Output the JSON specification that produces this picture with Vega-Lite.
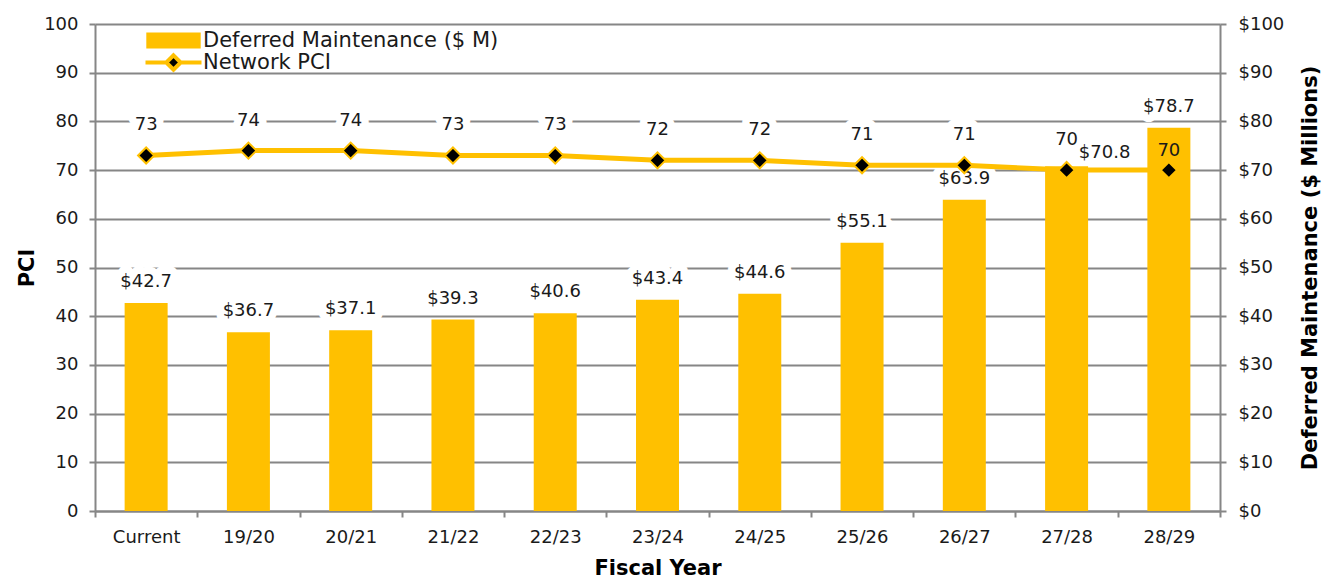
{
  "$schema": "https://vega.github.io/schema/vega-lite/v6.json",
  "width": 1125,
  "height": 487,
  "autosize": {"type": "none"},
  "padding": {"left": 95, "top": 24, "right": 117, "bottom": 74},
  "background": "white",
  "config": {
    "view": {"stroke": null},
    "font": "DejaVu Sans",
    "axis": {
      "labelFont": "DejaVu Sans",
      "labelFontSize": 18,
      "labelColor": "#1a1a1a",
      "titleFont": "DejaVu Sans",
      "titleFontSize": 21,
      "titleFontWeight": "bold",
      "titleColor": "#000000",
      "domainColor": "#868686",
      "domainWidth": 2,
      "tickColor": "#868686",
      "tickWidth": 2,
      "tickSize": 6,
      "gridColor": "#868686",
      "gridWidth": 2
    },
    "legend": {
      "orient": "none",
      "legendX": 68,
      "legendY": 6,
      "padding": 0,
      "labelFont": "DejaVu Sans",
      "labelFontSize": 21,
      "labelColor": "#1a1a1a",
      "labelOffset": 19,
      "labelLimit": 500,
      "rowPadding": -4,
      "symbolSize": 256,
      "symbolOpacity": 1
    }
  },
  "data": {
    "values": [
      {"year": "Current", "dm": 42.7, "pci": 73},
      {"year": "19/20", "dm": 36.7, "pci": 74},
      {"year": "20/21", "dm": 37.1, "pci": 74},
      {"year": "21/22", "dm": 39.3, "pci": 73},
      {"year": "22/23", "dm": 40.6, "pci": 73},
      {"year": "23/24", "dm": 43.4, "pci": 72},
      {"year": "24/25", "dm": 44.6, "pci": 72},
      {"year": "25/26", "dm": 55.1, "pci": 71},
      {"year": "26/27", "dm": 63.9, "pci": 71},
      {"year": "27/28", "dm": 70.8, "pci": 70},
      {"year": "28/29", "dm": 78.7, "pci": 70}
    ]
  },
  "encoding": {
    "x": {
      "field": "year",
      "type": "nominal",
      "sort": null,
      "scale": {
        "domain": ["Current", "19/20", "20/21", "21/22", "22/23", "23/24", "24/25", "25/26", "26/27", "27/28", "28/29"],
        "paddingInner": 0,
        "paddingOuter": 0
      },
      "axis": {
        "title": "Fiscal Year",
        "labelAngle": 0,
        "tickBand": "extent",
        "labelPadding": 11,
        "titlePadding": 11,
        "grid": false
      }
    }
  },
  "layer": [
    {
      "encoding": {
        "y": {
          "field": "dm",
          "type": "quantitative",
          "scale": {"domain": [0, 100]},
          "axis": {
            "orient": "right",
            "title": "Deferred Maintenance ($ Millions)",
            "titleAngle": 270,
            "values": [0, 10, 20, 30, 40, 50, 60, 70, 80, 90, 100],
            "format": "$d",
            "grid": false,
            "labelPadding": 12,
            "titlePadding": 37
          }
        }
      },
      "layer": [
        {
          "transform": [{"filter": "datum.year !== '27/28'"}],
          "mark": {"type": "text", "dy": -21, "fontSize": 18, "color": "#ffffff", "stroke": "#ffffff", "strokeWidth": 15, "strokeJoin": "round", "font": "DejaVu Sans"},
          "encoding": {
            "text": {"field": "dm", "type": "quantitative", "format": "$.1f"}
          }
        },
        {
          "transform": [{"filter": "datum.year === '27/28'"}],
          "mark": {"type": "text", "dx": 38, "dy": -13, "fontSize": 18, "color": "#ffffff", "stroke": "#ffffff", "strokeWidth": 15, "strokeJoin": "round", "font": "DejaVu Sans"},
          "encoding": {
            "text": {"field": "dm", "type": "quantitative", "format": "$.1f"}
          }
        },
        {
          "mark": {"type": "bar", "size": 43},
          "encoding": {
            "fill": {
              "datum": "Deferred Maintenance ($ M)",
              "type": "nominal",
              "scale": {
                "domain": ["Deferred Maintenance ($ M)", "Network PCI"],
                "range": ["#FFC000", "#000000"]
              },
              "legend": {
                "title": null,
                "encode": {
                  "symbols": {
                    "update": {
                      "shape": {"signal": "datum.value === 'Network PCI' ? 'M-3.5,0H-0.8M0.8,0H3.5M0,-0.9L0.9,0L0,0.9L-0.9,0Z' : 'M-3.4,-1H3.4V1H-3.4Z'"},
                      "stroke": {"value": "#FFC000"},
                      "strokeWidth": {"signal": "datum.value === 'Network PCI' ? 4 : 0"}
                    }
                  }
                }
              }
            }
          }
        },
        {
          "transform": [{"filter": "datum.year !== '27/28'"}],
          "mark": {"type": "text", "dy": -21, "fontSize": 18, "color": "#1a1a1a", "font": "DejaVu Sans"},
          "encoding": {
            "text": {"field": "dm", "type": "quantitative", "format": "$.1f"}
          }
        },
        {
          "transform": [{"filter": "datum.year === '27/28'"}],
          "mark": {"type": "text", "dx": 38, "dy": -13, "fontSize": 18, "color": "#1a1a1a", "font": "DejaVu Sans"},
          "encoding": {
            "text": {"field": "dm", "type": "quantitative", "format": "$.1f"}
          }
        }
      ]
    },
    {
      "encoding": {
        "y": {
          "field": "pci",
          "type": "quantitative",
          "scale": {"domain": [0, 100]},
          "axis": {
            "orient": "left",
            "title": "PCI",
            "values": [0, 10, 20, 30, 40, 50, 60, 70, 80, 90, 100],
            "grid": true,
            "labelPadding": 11,
            "titlePadding": 6
          }
        }
      },
      "layer": [
        {
          "transform": [{"filter": "datum.pci > 70"}],
          "mark": {"type": "text", "dy": -30, "fontSize": 18, "color": "#ffffff", "stroke": "#ffffff", "strokeWidth": 15, "strokeJoin": "round", "font": "DejaVu Sans"},
          "encoding": {
            "text": {"field": "pci", "type": "quantitative", "format": "d"}
          }
        },
        {
          "mark": {"type": "line", "color": "#FFC000", "strokeWidth": 5},
          "encoding": {}
        },
        {
          "mark": {"type": "point", "shape": "diamond", "filled": true, "fill": "#000000", "stroke": "#FFC000", "strokeWidth": 2, "size": 260, "opacity": 1},
          "encoding": {}
        },
        {
          "transform": [{"filter": "datum.year !== '28/29'"}],
          "mark": {"type": "text", "dy": -30, "fontSize": 18, "color": "#1a1a1a", "font": "DejaVu Sans"},
          "encoding": {
            "text": {"field": "pci", "type": "quantitative", "format": "d"}
          }
        },
        {
          "transform": [{"filter": "datum.year === '28/29'"}],
          "mark": {"type": "text", "dy": -19, "fontSize": 18, "color": "#1a1a1a", "font": "DejaVu Sans"},
          "encoding": {
            "text": {"field": "pci", "type": "quantitative", "format": "d"}
          }
        }
      ]
    }
  ],
  "resolve": {"scale": {"y": "independent"}}
}
